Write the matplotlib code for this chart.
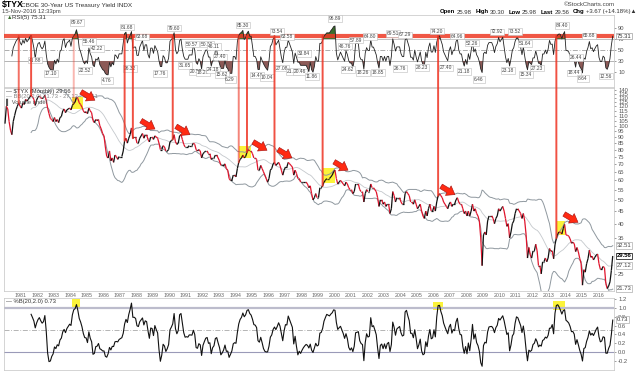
#!/usr/bin/env python3
"""
$TYX monthly with RSI(5), Bollinger Bands and %B (StockCharts style)
"""

import numpy as np
import pandas as pd
import matplotlib
matplotlib.use("Agg")
import matplotlib.pyplot as plt
from matplotlib.collections import LineCollection
from matplotlib.patches import Rectangle, ConnectionPatch
from matplotlib.ticker import NullLocator

plt.rcParams['font.family'] = ['Liberation Sans', 'DejaVu Sans']

# monthly closes of $TYX (30y yield x10), Jan 1980 .. Nov 2016
first_year = 1980
closes_1980s = [
    102, 120, 117, 104, 96, 92, 104, 110, 116, 120, 124, 120,
    118, 124, 122, 128, 126, 128, 131, 133, 131, 128, 121, 127,
    131, 132, 130, 129, 130, 133, 127, 118, 112, 107, 106, 104,
    108, 104, 106, 103, 108, 109, 115, 117, 113, 116, 117, 118,
    116, 121, 123, 125, 131, 129, 124, 122, 119, 115, 113, 114,
    112, 118, 115, 113, 105, 103, 106, 105, 106, 100, 97, 93,
    91, 82, 75, 74, 79, 72, 74, 71, 76, 75, 73, 75,
    75, 75, 79, 87, 89, 85, 89, 92, 98, 89, 90, 90,
    85, 85, 89, 91, 93, 89, 92, 92, 88, 86, 90, 90,
    88, 91, 90, 89, 85, 80, 80, 83, 82, 79, 79, 80,
]
closes_1990s = [
    86, 87, 88, 92, 86, 84, 85, 91, 92, 88, 84, 82,
    82, 82, 83, 83, 83, 85, 84, 80, 79, 80, 79, 74,
    77, 78, 79, 79, 77, 77, 73, 74, 74, 76, 76, 74,
    72, 69, 69, 69, 70, 67, 66, 61, 60, 60, 63, 63,
    62, 67, 71, 73, 74, 76, 74, 75, 78, 80, 79, 79,
    77, 74, 74, 73, 66, 66, 69, 67, 65, 63, 61, 59,
    61, 66, 67, 70, 71, 69, 70, 71, 69, 66, 63, 66,
    68, 68, 71, 70, 69, 68, 63, 66, 64, 61, 61, 59,
    59, 59, 59, 59, 58, 56, 57, 53, 50, 51, 53, 51,
    51, 56, 56, 57, 59, 60, 61, 61, 61, 62, 63, 65,
]
closes_2000s = [
    66, 61, 58, 59, 60, 59, 58, 57, 59, 58, 56, 55,
    55, 53, 54, 58, 58, 58, 55, 54, 54, 49, 53, 55,
    54, 54, 58, 56, 56, 55, 54, 51, 47, 50, 50, 48,
    49, 47, 48, 48, 44, 46, 54, 52, 49, 51, 51, 51,
    49, 48, 48, 53, 54, 53, 52, 49, 49, 48, 50, 48,
    46, 47, 48, 45, 43, 42, 45, 43, 46, 48, 45, 45,
    47, 45, 49, 52, 53, 52, 51, 49, 48, 47, 46, 48,
    49, 47, 48, 48, 50, 51, 49, 48, 48, 46, 44, 45,
    43, 45, 43, 45, 48, 45, 46, 44, 43, 41, 35, 27,
    36, 37, 36, 41, 43, 43, 43, 42, 40, 42, 43, 46,
]
closes_2010s = [
    45, 46, 47, 45, 42, 39, 40, 35, 37, 40, 41, 44,
    46, 46, 45, 44, 42, 44, 41, 36, 29, 32, 30, 29,
    31, 31, 33, 31, 27, 27, 25, 28, 28, 29, 28, 29,
    31.7, 30.9, 31.0, 28.8, 32.8, 35.0, 36.4, 37.0, 36.9, 36.3, 38.2, 39.7,
    36.0, 35.9, 35.6, 34.7, 33.3, 33.6, 33.2, 30.8, 32.0, 30.7, 28.9, 27.5,
    22.5, 26.0, 25.4, 27.5, 28.8, 31.2, 29.2, 29.5, 28.5, 29.2, 29.8, 30.1,
    27.5, 26.1, 26.1, 26.8, 26.5, 22.8, 21.8, 22.3, 23.2, 25.8, 29.56,
]

year_labels = list(range(1981, 2017))
price_ticks = [140, 135, 130, 125, 120, 115, 110, 105, 100, 95, 90, 85, 80,
               75, 70, 65, 60, 55, 50, 45, 40, 35, 25]
rsi_ticks = [90, 70, 50, 30, 10]
pctb_ticks = [1.2, 1.0, 0.8, 0.6, 0.4, 0.2, 0.0, -0.2]

# last values shown in the legends / right margin
last_close = "29.56"
bb_lower, bb_mid, bb_upper = "21.73", "27.12", "32.51"
rsi_last = "75.31"
pctb_last = "0.73"
ohlc_names = ["Open", "High", "Low", "Last", "Chg"]
ohlc_values = ["25.98", "30.30", "25.98", "29.56", "+3.67 (+14.18%)\u25b2"]

# RSI(5) peak / trough annotations
rsi_hi_dates = [1984.36, 1985.09, 1985.58, 1987.39, 1988.30, 1990.24, 1991.33,
                1992.24, 1992.67, 1993.03, 1994.42, 1996.48, 1997.09, 1998.12,
                2000.00, 2000.61, 2001.27, 2002.12, 2003.52, 2004.24, 2006.18,
                2007.39, 2008.30, 2009.82, 2010.91, 2011.52, 2013.76, 2014.61,
                2015.39]
rsi_hi_labels = ["89.67", "55.46", "42.22", "81.68", "63.68", "79.60", "50.57",
                 "50.32", "46.11", "27.40", "85.30", "73.54", "63.58", "33.84",
                 "96.89", "46.76", "57.89", "64.80", "69.51", "67.29", "74.20",
                 "64.96", "52.26", "72.92", "73.52", "51.64", "84.40", "26.44",
                 "65.68"]
rsi_lo_dates = [1981.82, 1982.79, 1984.85, 1986.18, 1987.58, 1989.39, 1990.91,
                1991.58, 1992.00, 1992.61, 1993.15, 1993.64, 1995.27, 1995.88,
                1996.79, 1997.45, 1997.88, 1998.61, 2000.79, 2001.70, 2002.61,
                2003.94, 2005.27, 2006.73, 2007.82, 2008.73, 2010.48, 2011.58,
                2012.24, 2014.48, 2015.03, 2016.42]
rsi_lo_labels = ["41.88", "17.10", "22.52", "4.76", "26.32", "17.76", "31.65",
                 "20.52", "18.28", "24.18", "15.62", "6.29", "14.48", "10.04",
                 "27.08", "21.35", "20.46", "11.86", "24.62", "18.26", "18.85",
                 "26.76", "28.23", "27.40", "21.18", "6.46", "23.18", "15.34",
                 "27.23", "18.44", "8.64", "12.56"]

# red signal lines from the RSI band down to price
signal_dates = [1980.85, 1981.58, 1984.18, 1987.27, 1987.76, 1990.18, 1994.18,
                1994.67, 1996.30, 1999.27, 2006.24, 2013.45]
signal_alpha = [0.7, 0.85, 0.35, 0.85, 0.85, 0.85, 0.6, 0.85, 0.85, 0.85, 0.85, 0.85]
rsi_band = 75.5

# yellow highlight boxes
price_box_dates = [(1984.06, 1984.73), (1994.18, 1994.91), (1999.27, 2000.0), (2013.45, 2013.94)]
price_box_levels = [(117, 131), (74, 83), (58.4, 67.3), (35.9, 41.0)]
pctb_box_dates = [(1984.06, 1984.55), (2005.94, 2006.55), (2013.20, 2013.94)]
pctb_box_levels = [(0.98, 1.2), (0.95, 1.14), (0.95, 1.16)]

# red arrows (head position)
arrow_dates = [1985.45, 1989.09, 1991.21, 1995.88, 1997.39, 2000.79, 2007.27, 2014.73]
arrow_levels = [127, 97, 92, 79.5, 74, 66, 52.5, 40.5]


def rsi(values, n=5):
    d = np.diff(values)
    out = np.full(len(values), np.nan)
    ag = np.clip(d[:n], 0, None).mean()
    al = np.clip(-d[:n], 0, None).mean()
    out[n] = 100 - 100 / (1 + ag / al) if al > 0 else 100
    for i in range(n, len(d)):
        ag = (ag * (n - 1) + max(d[i], 0)) / n
        al = (al * (n - 1) + max(-d[i], 0)) / n
        out[i + 1] = 100 - 100 / (1 + ag / al) if al > 0 else 100
    return out


close = pd.Series(closes_1980s + closes_1990s + closes_2000s + closes_2010s, dtype=float)
t = first_year + np.arange(len(close)) / 12.0
mid = close.rolling(20).mean()
sd = close.rolling(20).std(ddof=0)
upper = mid + 2 * sd
lower = mid - 2 * sd
pctb = (close - lower) / (upper - lower)
rsi5 = rsi(close.values)

W, H = 640, 371
fig = plt.figure(figsize=(W / 100, H / 100), dpi=100)


def px_rect(x0, y0, x1, y1):
    return [x0 / W, 1 - y1 / H, (x1 - x0) / W, (y1 - y0) / H]


def ftext(x, y, s, **kw):
    return fig.text(x / W, 1 - y / H, s, va='center', **kw)


ax_rsi = fig.add_axes(px_rect(4, 15, 614, 87))
ax = fig.add_axes(px_rect(4, 88, 614, 291))
ax_pb = fig.add_axes(px_rect(4, 298, 614, 370))

for a in (ax_rsi, ax, ax_pb):
    a.set_xlim(1979.94, 2016.91)
    a.set_xticks([])
    a.yaxis.tick_right()
    a.tick_params(axis='y', length=1.5, width=0.4, pad=1.5, labelsize=4.2,
                  colors='#555555')
    for s in a.spines.values():
        s.set_color('#c4c4c4')
        s.set_linewidth(0.5)

# --- RSI panel
ax_rsi.set_ylim(-17.3, 113.6)
ax_rsi.set_yticks(rsi_ticks, labels=[str(v) for v in rsi_ticks])
ax_rsi.axhline(rsi_band, color='#ee3a24', lw=3, alpha=0.85, zorder=3)
ax_rsi.axhline(70, color='#a8a8a8', lw=0.5, zorder=1)
ax_rsi.axhline(50, color='#a0a0a0', lw=0.6, ls=(0, (6, 2, 1, 2)), zorder=1)
ax_rsi.axhline(30, color='#a8a8a8', lw=0.6, zorder=1)
ax_rsi.fill_between(t, rsi5, 70, where=rsi5 >= 70, interpolate=True,
                    color='#3b6e2d', lw=0, zorder=2)
ax_rsi.fill_between(t, rsi5, 30, where=rsi5 <= 30, interpolate=True,
                    color='#8c5a57', lw=0, zorder=2)
ax_rsi.plot(t, rsi5, color='#222222', lw=0.6, zorder=4)

lbl_box = dict(boxstyle='square,pad=0.15', fc='white', ec='#bcbcbc', lw=0.4)
for d, s in zip(rsi_hi_dates, rsi_hi_labels):
    ax_rsi.annotate(s, (d, float(s)), xytext=(0, 4), textcoords='offset points',
                    ha='center', va='center', fontsize=3.5, color='#444444',
                    bbox=lbl_box, zorder=6)
for d, s in zip(rsi_lo_dates, rsi_lo_labels):
    ax_rsi.annotate(s, (d, float(s)), xytext=(0, -4), textcoords='offset points',
                    ha='center', va='center', fontsize=3.5, color='#444444',
                    bbox=lbl_box, zorder=6)
ax_rsi.text(1.004, float(rsi_last), rsi_last, transform=ax_rsi.get_yaxis_transform(),
            ha='left', va='center', fontsize=4.2, color='#333333',
            bbox=dict(boxstyle='square,pad=0.15', fc='white', ec='#888888', lw=0.4))
ax_rsi.text(0.004, 0.965, "\u25b2", transform=ax_rsi.transAxes, fontsize=4,
            color='#3b6e2d', va='center', ha='left')
ax_rsi.text(0.013, 0.965, "RSI(5) " + rsi_last, transform=ax_rsi.transAxes,
            fontsize=4.3, color='#333333', va='center', ha='left')

# --- price panel
ax.set_yscale('log')
ax.set_ylim(21.3, 142.4)
ax.set_yticks(price_ticks, labels=[str(v) for v in price_ticks])
ax.yaxis.set_minor_locator(NullLocator())

for (d0, d1), (v0, v1) in zip(price_box_dates, price_box_levels):
    ax.add_patch(Rectangle((d0, v0), d1 - d0, v1 - v0, color='#fbf33a', lw=0, zorder=1))

ax.plot(t, upper, color='#8f989f', lw=0.7, zorder=2)
ax.plot(t, lower, color='#8f989f', lw=0.7, zorder=2)
ax.plot(t, mid, color='#c4c8cc', lw=0.6, zorder=2)

pts = np.column_stack([t, close.values])
segs = np.stack([pts[:-1], pts[1:]], axis=1)
seg_cols = np.where(np.diff(close.values) >= 0, '#111111', '#e0142c')
ax.add_collection(LineCollection(segs, colors=seg_cols, linewidths=0.9, zorder=3))

for d, lvl in zip(arrow_dates, arrow_levels):
    ax.annotate('', xy=(d, lvl), xytext=(-10, 6), textcoords='offset points',
                arrowprops=dict(arrowstyle='simple,head_length=0.7,head_width=1.0,tail_width=0.45',
                                fc='#ff2a12', ec='#a01010', lw=0.4,
                                shrinkA=0, shrinkB=0, mutation_scale=8),
                zorder=6)

for yr in year_labels:
    ax.text(yr - 0.05, -0.02, str(yr), transform=ax.get_xaxis_transform(),
            ha='center', va='center', fontsize=3.8, color='#666666', clip_on=False)

vbox = dict(boxstyle='square,pad=0.15', fc='white', ec='#9a9a9a', lw=0.4)
for s in (bb_upper, bb_mid, bb_lower):
    ax.text(1.004, float(s), s, transform=ax.get_yaxis_transform(), ha='left',
            va='center', fontsize=4.2, color='#444444', bbox=vbox)
ax.text(1.004, float(last_close), last_close, transform=ax.get_yaxis_transform(),
        ha='left', va='center', fontsize=4.2, color='black', fontweight='bold',
        bbox=dict(boxstyle='square,pad=0.15', fc='white', ec='black', lw=0.5))

ax.text(0.004, 0.985, "\u2014 $TYX (Monthly) " + last_close, transform=ax.transAxes,
        fontsize=4.2, color='#333333', va='center', ha='left')
ax.text(0.004, 0.958, "\u2014 BB(20,2.0) %s - %s - %s" % (bb_lower, bb_mid, bb_upper),
        transform=ax.transAxes, fontsize=4.2, color='#888888', va='center', ha='left')
ax.text(0.004, 0.931, "\u258c Volume undef", transform=ax.transAxes,
        fontsize=4.2, color='#555555', va='center', ha='left')

# --- %B panel
ax_pb.set_ylim(-0.41, 1.227)
ax_pb.set_yticks(pctb_ticks, labels=["%.1f" % v for v in pctb_ticks])
for (d0, d1), (v0, v1) in zip(pctb_box_dates, pctb_box_levels):
    ax_pb.add_patch(Rectangle((d0, v0), d1 - d0, v1 - v0, color='#fbf33a', lw=0, zorder=1))
ax_pb.axhline(1.0, color='#bcbccc', lw=1.6, zorder=1)
ax_pb.axhline(0.5, color='#a8a8a8', lw=0.6, ls=(0, (6, 2, 1, 2)), zorder=1)
ax_pb.axhline(0.0, color='#9a9ab8', lw=0.8, zorder=1)
ax_pb.plot(t, pctb, color='#111111', lw=0.8, zorder=3)
ax_pb.text(1.004, float(pctb_last), pctb_last, transform=ax_pb.get_yaxis_transform(),
           ha='left', va='center', fontsize=4.2, color='#333333', bbox=vbox)
ax_pb.text(0.004, 0.955, "\u2014 %B(20,2.0) " + pctb_last, transform=ax_pb.transAxes,
           fontsize=4.2, color='#333333', va='center', ha='left')

# --- signal lines linking RSI band to price
for d, al in zip(signal_dates, signal_alpha):
    i = int(round((d - first_year) * 12))
    con = ConnectionPatch(xyA=(t[i], rsi_band), coordsA=ax_rsi.transData,
                          xyB=(t[i], close[i]), coordsB=ax.transData,
                          color='#ee3322', lw=1.4, alpha=al, zorder=5)
    fig.add_artist(con)

# --- header
ftext(2, 5, "$TYX", fontsize=6.3, fontweight='bold', color='black')
ftext(21, 5, "CBOE 30-Year US Treasury Yield INDX", fontsize=4.6, color='#333333')
ftext(2, 12, "15-Nov-2016 12:33pm", fontsize=4.2, color='#444444')
ftext(615, 5, "\u00a9StockCharts.com", fontsize=4.4, color='#444444', ha='right')

# OHLC line, laid out piece by piece so the words do not collide
renderer = fig.canvas.get_renderer()
x = 440.0
for name, val in zip(ohlc_names, ohlc_values):
    for s, bold in ((name, True), (val, False)):
        txt = ftext(x, 12, s, fontsize=4.3, color='black' if bold else '#333333',
                    fontweight='bold' if bold else 'normal')
        x += txt.get_window_extent(renderer).width + (1.5 if bold else 3.5)

fig.savefig("out.png", dpi=100)
